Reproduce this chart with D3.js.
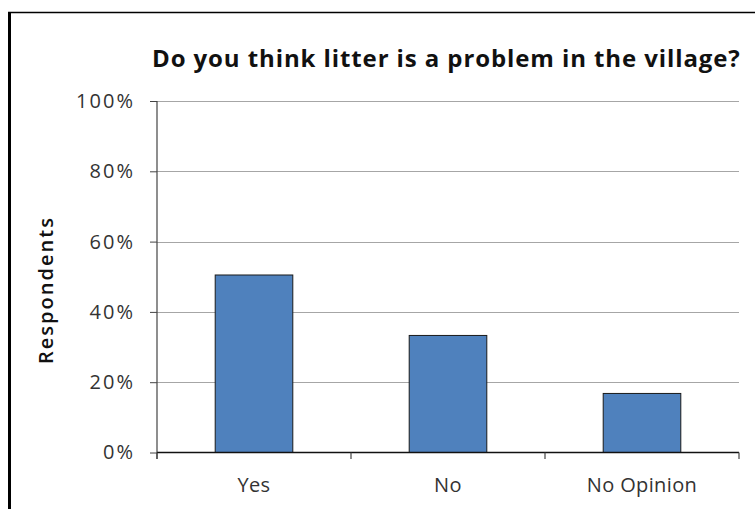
<!DOCTYPE html>
<html><head><meta charset="utf-8">
<script src="https://cdn.jsdelivr.net/npm/d3@7"></script>
<style>body{margin:0;background:#fff}svg{display:block}</style>
</head><body>
<svg id="c" width="755" height="509"></svg>
<script>
const categories = ["Yes", "No", "No Opinion"];
const values = [50.5, 33.3, 16.8];
const yTicks = [0, 20, 40, 60, 80, 100];
const title = "Do you think litter is a problem in the village?";
const yLabel = "Respondents";

(function () {
const svg = d3.select("#c");
const W = 755, H = 509;
const pLeft = 157, pRight = 739, pTop = 101, pBottom = 452.5;
const FONT = "'Open Sans', 'Liberation Sans', sans-serif";

// frame
svg.append("line").attr("x1", 8).attr("x2", W).attr("y1", 12.5).attr("y2", 12.5)
  .attr("stroke", "#000").attr("stroke-width", 1.5);
svg.append("line").attr("x1", 9.5).attr("x2", 9.5).attr("y1", 12).attr("y2", H)
  .attr("stroke", "#000").attr("stroke-width", 3);

const x = d3.scaleBand().domain(categories).range([pLeft, pRight])
  .paddingInner(0.6).paddingOuter(0.3);
const y = d3.scaleLinear().domain([0, 100]).range([pBottom, pTop]);

function spacingFor(node, text, target) {
  const w = node.getComputedTextLength();
  return ((target - w) / Math.max(1, text.length - 1));
}

// gridlines
svg.append("g").selectAll("line").data(yTicks.filter(d => d > 0)).join("line")
  .attr("x1", pLeft).attr("x2", pRight)
  .attr("y1", d => Math.round(y(d)) + 0.5).attr("y2", d => Math.round(y(d)) + 0.5)
  .attr("stroke", "#a6a6a6").attr("stroke-width", 1.2);

// bars
svg.append("g").selectAll("rect").data(values).join("rect")
  .attr("x", (d, i) => x(categories[i]))
  .attr("width", x.bandwidth())
  .attr("y", d => y(d))
  .attr("height", d => y(0) - y(d))
  .attr("fill", "#4f81bd").attr("stroke", "#1a1a1a").attr("stroke-width", 1);

// y axis
const yAxis = svg.append("g").attr("transform", `translate(${pLeft},0)`)
  .call(d3.axisLeft(y).tickValues(yTicks).tickFormat(d => d + "%").tickSize(7).tickPadding(15));
yAxis.select(".domain").remove();
yAxis.selectAll(".tick line").attr("stroke", "#444");
const yt = yAxis.selectAll("text").attr("font-family", FONT).attr("font-size", 20).attr("fill", "#333");
const ref = yt.filter(d => d === 100);
const ls = spacingFor(ref.node(), "100%", 57);
yt.attr("letter-spacing", ls.toFixed(2));
svg.append("line").attr("x1", pLeft).attr("x2", pLeft).attr("y1", pTop).attr("y2", pBottom + 6.5)
  .attr("stroke", "#444").attr("stroke-width", 1.2);

// x axis
const xAxis = svg.append("g").attr("transform", `translate(0,${pBottom})`)
  .call(d3.axisBottom(x).tickSize(0).tickPadding(25));
xAxis.select(".domain").remove();
const xt = xAxis.selectAll("text").attr("font-family", FONT).attr("font-size", 20).attr("fill", "#333");
const xref = xt.filter(d => d === "No Opinion");
const xls = spacingFor(xref.node(), "No Opinion", 110);
xt.attr("letter-spacing", xls.toFixed(2));
svg.append("line").attr("x1", pLeft).attr("x2", pRight).attr("y1", pBottom).attr("y2", pBottom)
  .attr("stroke", "#111").attr("stroke-width", 1.3);
const bounds = d3.range(categories.length + 1).map(i => pLeft + i * x.step());
svg.append("g").selectAll("line").data(bounds).join("line")
  .attr("x1", d => d).attr("x2", d => d).attr("y1", pBottom).attr("y2", pBottom + 6.5)
  .attr("stroke", "#444").attr("stroke-width", 1.2);

// title
const t = svg.append("text").attr("x", 152).attr("y", 67)
  .attr("font-family", FONT).attr("font-weight", "bold").attr("font-size", 24)
  .attr("fill", "#111").text(title);
t.attr("letter-spacing", spacingFor(t.node(), title, 588).toFixed(2));

// y label
const yl = svg.append("text").attr("transform", "translate(53,290) rotate(-90)")
  .attr("text-anchor", "middle").attr("font-family", FONT).attr("font-weight", "600")
  .attr("font-size", 20).attr("fill", "#111").text(yLabel);
yl.attr("letter-spacing", spacingFor(yl.node(), yLabel, 146).toFixed(2));
})();
</script>
</body></html>
